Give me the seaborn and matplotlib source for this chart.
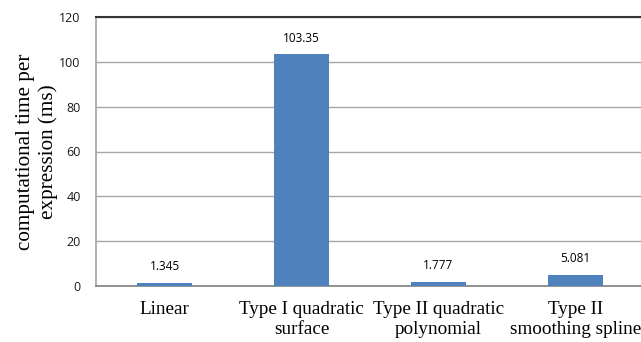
import matplotlib
matplotlib.use("Agg")
import matplotlib.pyplot as plt
import seaborn as sns
import pandas as pd

methods = ["Linear", "Type I quadratic\nsurface", "Type II quadratic\npolynomial",
           "Type II\nsmoothing spline"]
times_ms = [1.345, 103.35, 1.777, 5.081]
value_labels = ["1.345", "103.35", "1.777", "5.081"]
y_ticks = [0, 20, 40, 60, 80, 100, 120]

df = pd.DataFrame({"method": methods, "time": times_ms})

sns.set_theme(style="white")
fig = plt.figure(figsize=(6.41, 3.42), dpi=100)
ax = fig.add_axes([96 / 641, 1 - 286 / 342, 548 / 641, (286 - 17) / 342])

sns.barplot(data=df, x="method", y="time", color="#4F81BD", saturation=1,
            width=0.4, linewidth=0, ax=ax, zorder=3)

ax.set_ylim(0, 120)
ax.set_xlim(-0.5, 3.5)
ax.set_yticks(y_ticks)
ax.set_yticklabels([str(t) for t in y_ticks], family="Open Sans", fontsize=9,
                   color="#1a1a1a")
ax.yaxis.grid(True, color="#A6A6A6", linewidth=1.0, zorder=0)
ax.set_axisbelow(True)

ax.tick_params(axis="x", length=0, pad=11)
ax.tick_params(axis="y", length=0, pad=11)
for lab in ax.get_xticklabels():
    lab.set_family("Liberation Serif")
    lab.set_fontsize(13.8)
    lab.set_color("black")
    lab.set_linespacing(1.22)

ax.set_xlabel("")
ax.set_ylabel("computational time per\nexpression (ms)", family="Liberation Serif",
              fontsize=15.2, color="black", linespacing=1.25, labelpad=1)

for i, (v, t) in enumerate(zip(times_ms, value_labels)):
    ax.annotate(t, (i, v), xytext=(0, 7), textcoords="offset points",
                ha="center", va="bottom", family="Open Sans", fontsize=8.5,
                color="black")

ax.spines["top"].set_color("#333333")
ax.spines["top"].set_linewidth(1.5)
ax.spines["left"].set_color("#A6A6A6")
ax.spines["bottom"].set_color("#808080")
ax.spines["bottom"].set_linewidth(1.2)
ax.spines["right"].set_visible(False)

fig.savefig("out.png", dpi=100)
